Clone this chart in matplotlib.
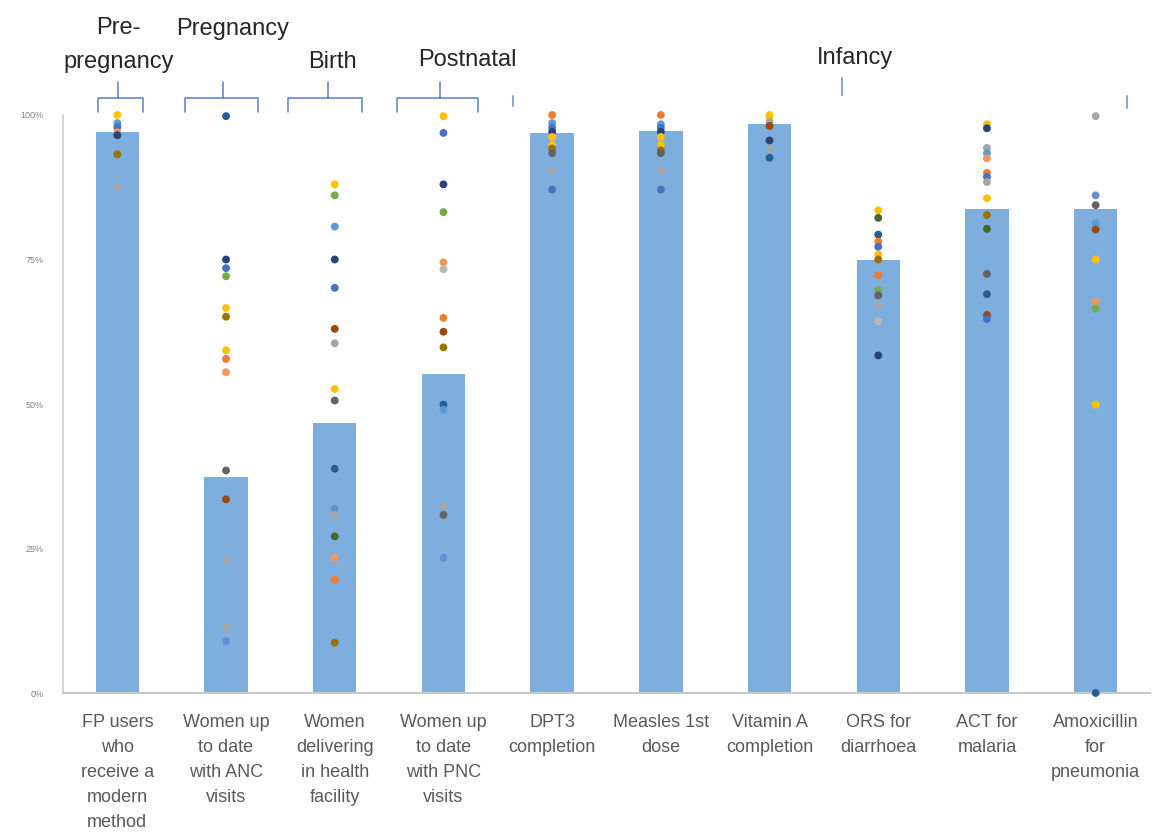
import matplotlib
matplotlib.use("Agg")
import matplotlib.pyplot as plt

categories = [
    "FP users\nwho\nreceive a\nmodern\nmethod",
    "Women up\nto date\nwith ANC\nvisits",
    "Women\ndelivering\nin health\nfacility",
    "Women up\nto date\nwith PNC\nvisits",
    "DPT3\ncompletion",
    "Measles 1st\ndose",
    "Vitamin A\ncompletion",
    "ORS for\ndiarrhoea",
    "ACT for\nmalaria",
    "Amoxicillin\nfor\npneumonia",
]

# bar = overall coverage, dots = individual countries
bar_values = [0.971, 0.374, 0.467, 0.552, 0.969, 0.973, 0.984, 0.749, 0.838, 0.838]

dot_values = [
    [1.00, 0.986, 0.979, 0.970, 0.965, 0.932, 0.875],
    [0.998, 0.75, 0.735, 0.721, 0.666, 0.651, 0.593, 0.578, 0.555, 0.385, 0.335, 0.23, 0.114, 0.09],
    [0.88, 0.861, 0.807, 0.75, 0.701, 0.63, 0.605, 0.526, 0.506, 0.388, 0.319, 0.308, 0.271, 0.234, 0.196, 0.087],
    [0.998, 0.969, 0.88, 0.832, 0.745, 0.733, 0.649, 0.625, 0.598, 0.499, 0.49, 0.323, 0.308, 0.234],
    [1.0, 0.986, 0.978, 0.971, 0.962, 0.948, 0.942, 0.934, 0.904, 0.871],
    [1.0, 0.984, 0.978, 0.971, 0.962, 0.948, 0.939, 0.934, 0.904, 0.871],
    [1.0, 0.997, 0.988, 0.981, 0.956, 0.941, 0.926],
    [0.835, 0.822, 0.793, 0.781, 0.772, 0.759, 0.75, 0.723, 0.697, 0.688, 0.671, 0.643, 0.584],
    [0.984, 0.977, 0.943, 0.934, 0.925, 0.90, 0.893, 0.884, 0.856, 0.827, 0.803, 0.725, 0.69, 0.654, 0.647],
    [0.998, 0.861, 0.844, 0.813, 0.802, 0.75, 0.677, 0.665, 0.499, 0.0],
]

pal = {
    "B": "#4472C4", "O": "#ED7D31", "G": "#A5A5A5", "Y": "#FFC000",
    "LB": "#5B9BD5", "GR": "#70AD47", "NV": "#264478", "RU": "#9E480E",
    "DG": "#636363", "OL": "#997300", "PB": "#698ED0", "LO": "#F1975A",
    "LG": "#B7B7B7", "DB": "#255E91", "DGR": "#43682B",
}
dot_colors = [
    ["Y", "LB", "B", "LO", "NV", "OL", "G"],
    ["DB", "NV", "B", "GR", "Y", "OL", "Y", "O", "LO", "DG", "RU", "G", "G", "PB"],
    ["Y", "GR", "LB", "NV", "B", "RU", "G", "Y", "DG", "DB", "PB", "G", "DGR", "LO", "O", "OL"],
    ["Y", "B", "NV", "GR", "LO", "LG", "O", "RU", "OL", "DB", "LB", "G", "DG", "PB"],
    ["O", "LB", "B", "NV", "Y", "Y", "OL", "DG", "G", "B"],
    ["O", "LB", "B", "NV", "Y", "Y", "OL", "DG", "G", "B"],
    ["Y", "Y", "G", "RU", "NV", "G", "DB"],
    ["Y", "DGR", "DB", "O", "B", "Y", "OL", "O", "GR", "DG", "G", "LG", "NV"],
    ["Y", "NV", "G", "LB", "LO", "O", "B", "G", "Y", "OL", "DGR", "DG", "DB", "RU", "B"],
    ["G", "PB", "DG", "LB", "RU", "Y", "LO", "GR", "Y", "DB"],
]

phases = ["Pre-", "pregnancy", "Pregnancy", "Birth", "Postnatal", "Infancy"]

plt.rcParams["font.family"] = ["Liberation Sans", "DejaVu Sans"]

fig = plt.figure(figsize=(11.55, 8.38), dpi=100)
ax = fig.add_axes([63 / 1155, 145 / 838, 1087 / 1155, 578 / 838])

x = list(range(len(categories)))
ax.bar(x, bar_values, width=0.4, color="#7DAEDE", zorder=1)

for i, (vals, cols) in enumerate(zip(dot_values, dot_colors)):
    ax.scatter([i] * len(vals), vals, s=32, c=[pal[c] for c in cols],
               zorder=3, clip_on=False, linewidths=0)

ax.set_xlim(-0.5, 9.5)
ax.set_ylim(0, 1)
ax.set_yticks([0, 0.25, 0.5, 0.75, 1.0])
ax.set_yticklabels(["0%", "25%", "50%", "75%", "100%"], fontsize=6.5, color="#808080")
ax.set_xticks(x)
ax.set_xticklabels(categories, fontsize=13, color="#595959", linespacing=1.62, va="top")
ax.tick_params(axis="y", length=0, pad=14)
ax.tick_params(axis="x", length=0, pad=15)

for s in ["top", "right"]:
    ax.spines[s].set_visible(False)
ax.spines["left"].set_color("#D0D0D0")
ax.spines["bottom"].set_color("#C8C8C8")
ax.spines["left"].set_linewidth(1.2)
ax.spines["bottom"].set_linewidth(1.5)


def bracket(x0, x1, xc, color="#4472C4", alpha=0.9):
    y_line, y_end, y_top = 1.029, 1.005, 1.057
    kw = dict(color=color, lw=1.1, clip_on=False, alpha=alpha, solid_capstyle="round")
    ax.plot([x0, x0, x1, x1], [y_end, y_line, y_line, y_end], **kw)
    ax.plot([xc, xc], [y_line, y_top], **kw)


bracket(-0.18, 0.24, 0.01)
bracket(0.62, 1.29, 0.97)
bracket(1.57, 2.25, 1.94)
bracket(2.57, 3.32, 2.97)
# infancy bracket is mostly faded out in the original, only bits remain
kw = dict(color="#4472C4", lw=1.1, clip_on=False, alpha=0.8)
ax.plot([3.64, 3.64], [1.016, 1.033], **kw)
ax.plot([9.29, 9.29], [1.012, 1.033], **kw)
ax.plot([6.67, 6.67], [1.035, 1.064], **kw)

tkw = dict(fontsize=17, color="#262626", ha="center", va="center", clip_on=False)
ax.text(0.01, 1.150, phases[0], **tkw)
ax.text(0.01, 1.092, phases[1], **tkw)
ax.text(1.06, 1.148, phases[2], **tkw)
ax.text(1.98, 1.092, phases[3], **tkw)
ax.text(3.22, 1.095, phases[4], **tkw)
ax.text(6.79, 1.099, phases[5], **tkw)

fig.savefig("out.png", dpi=100)
